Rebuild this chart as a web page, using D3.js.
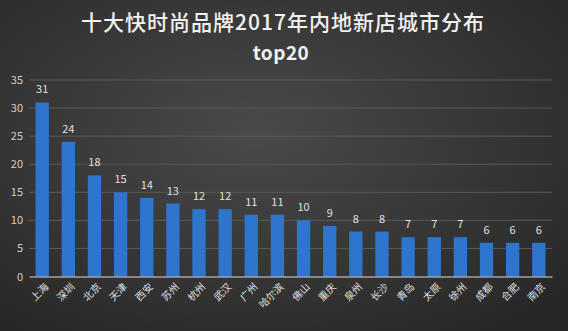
<!DOCTYPE html>
<html>
<head>
<meta charset="utf-8">
<script src="https://cdn.jsdelivr.net/npm/d3@7"></script>
<style>
  html, body { margin: 0; padding: 0; background: #333; }
  svg { display: block; }
</style>
</head>
<body>
<div id="chart"></div>
<script>
var width = 568, height = 331;
var font = "'Noto Sans CJK SC', 'Noto Sans', sans-serif";

var cities = ["上海", "深圳", "北京", "天津", "西安", "苏州", "杭州", "武汉", "广州", "哈尔滨",
              "佛山", "重庆", "泉州", "长沙", "青岛", "太原", "徐州", "成都", "合肥", "南京"];
var stores = [31, 24, 18, 15, 14, 13, 12, 12, 11, 11, 10, 9, 8, 8, 7, 7, 7, 6, 6, 6];
var yTicks = [0, 5, 10, 15, 20, 25, 30, 35];

var margin = {top: 80, left: 29, right: 16, bottom: 55};

var svg = d3.select("#chart").append("svg")
    .attr("width", width)
    .attr("height", height);

// dark vignette background
var defs = svg.append("defs");
var bg = defs.append("radialGradient")
    .attr("id", "bg")
    .attr("cx", "45%").attr("cy", "40%").attr("r", "75%");
bg.append("stop").attr("offset", "0%").attr("stop-color", "#4a4a4a");
bg.append("stop").attr("offset", "100%").attr("stop-color", "#262626");

svg.append("rect")
    .attr("width", width)
    .attr("height", height)
    .attr("fill", "url(#bg)");

/* Title */
svg.append("text")
    .attr("x", 283).attr("y", 30)
    .attr("text-anchor", "middle")
    .style("font", "500 21px " + font)
    .style("letter-spacing", "1px")
    .attr("fill", "#f2f2f2")
    .text("十大快时尚品牌2017年内地新店城市分布");

svg.append("text")
    .attr("x", 281).attr("y", 60)
    .attr("text-anchor", "middle")
    .style("font", "bold 19px " + font)
    .style("letter-spacing", "0.5px")
    .attr("fill", "#f2f2f2")
    .text("top20");

var x = d3.scaleBand()
    .domain(cities)
    .range([margin.left, width - margin.right])
    .paddingInner(0.49)
    .paddingOuter(0.25);

var y = d3.scaleLinear()
    .domain([0, 35])
    .range([276.5, 80]);

/* Grid lines */
svg.append("g")
    .selectAll("line")
    .data(yTicks.filter(function(d) { return d > 0; }))
    .enter().append("line")
    .attr("x1", margin.left).attr("x2", width - margin.right)
    .attr("y1", function(d) { return y(d); })
    .attr("y2", function(d) { return y(d); })
    .attr("stroke", "#5a5a5a")
    .attr("stroke-width", 1);

/* Y axis labels */
var yAxis = svg.append("g")
    .attr("transform", "translate(" + (margin.left - 6) + ",0)")
    .call(d3.axisLeft(y).tickValues(yTicks).tickSize(0).tickPadding(0));
yAxis.select(".domain").remove();
yAxis.selectAll("text")
    .style("font", "11px " + font)
    .attr("fill", "#d0d0d0");

/* Bars */
svg.append("g")
    .selectAll("rect")
    .data(stores)
    .enter().append("rect")
    .attr("x", function(d, i) { return x(cities[i]); })
    .attr("y", function(d) { return y(d); })
    .attr("width", x.bandwidth())
    .attr("height", function(d) { return y(0) - y(d); })
    .attr("fill", "#2e75cd");

/* Value labels */
svg.append("g")
    .selectAll("text")
    .data(stores)
    .enter().append("text")
    .attr("x", function(d, i) { return x(cities[i]) + x.bandwidth() / 2; })
    .attr("y", function(d) { return y(d) - 9; })
    .attr("text-anchor", "middle")
    .style("font", "11px " + font)
    .attr("fill", "#e0e0e0")
    .text(function(d) { return d; });

/* X axis */
var xAxis = svg.append("g")
    .attr("transform", "translate(0," + y(0) + ")")
    .call(d3.axisBottom(x).tickSize(0).tickPadding(0));
xAxis.select(".domain")
    .attr("stroke", "#d8d8d8")
    .attr("stroke-width", 1);
xAxis.selectAll("text")
    .style("font", "10px " + font)
    .attr("fill", "#e0e0e0")
    .attr("text-anchor", "end")
    .attr("dy", null)
    .attr("y", 0)
    .attr("transform", "translate(7,11) rotate(-45)");
</script>
</body>
</html>
